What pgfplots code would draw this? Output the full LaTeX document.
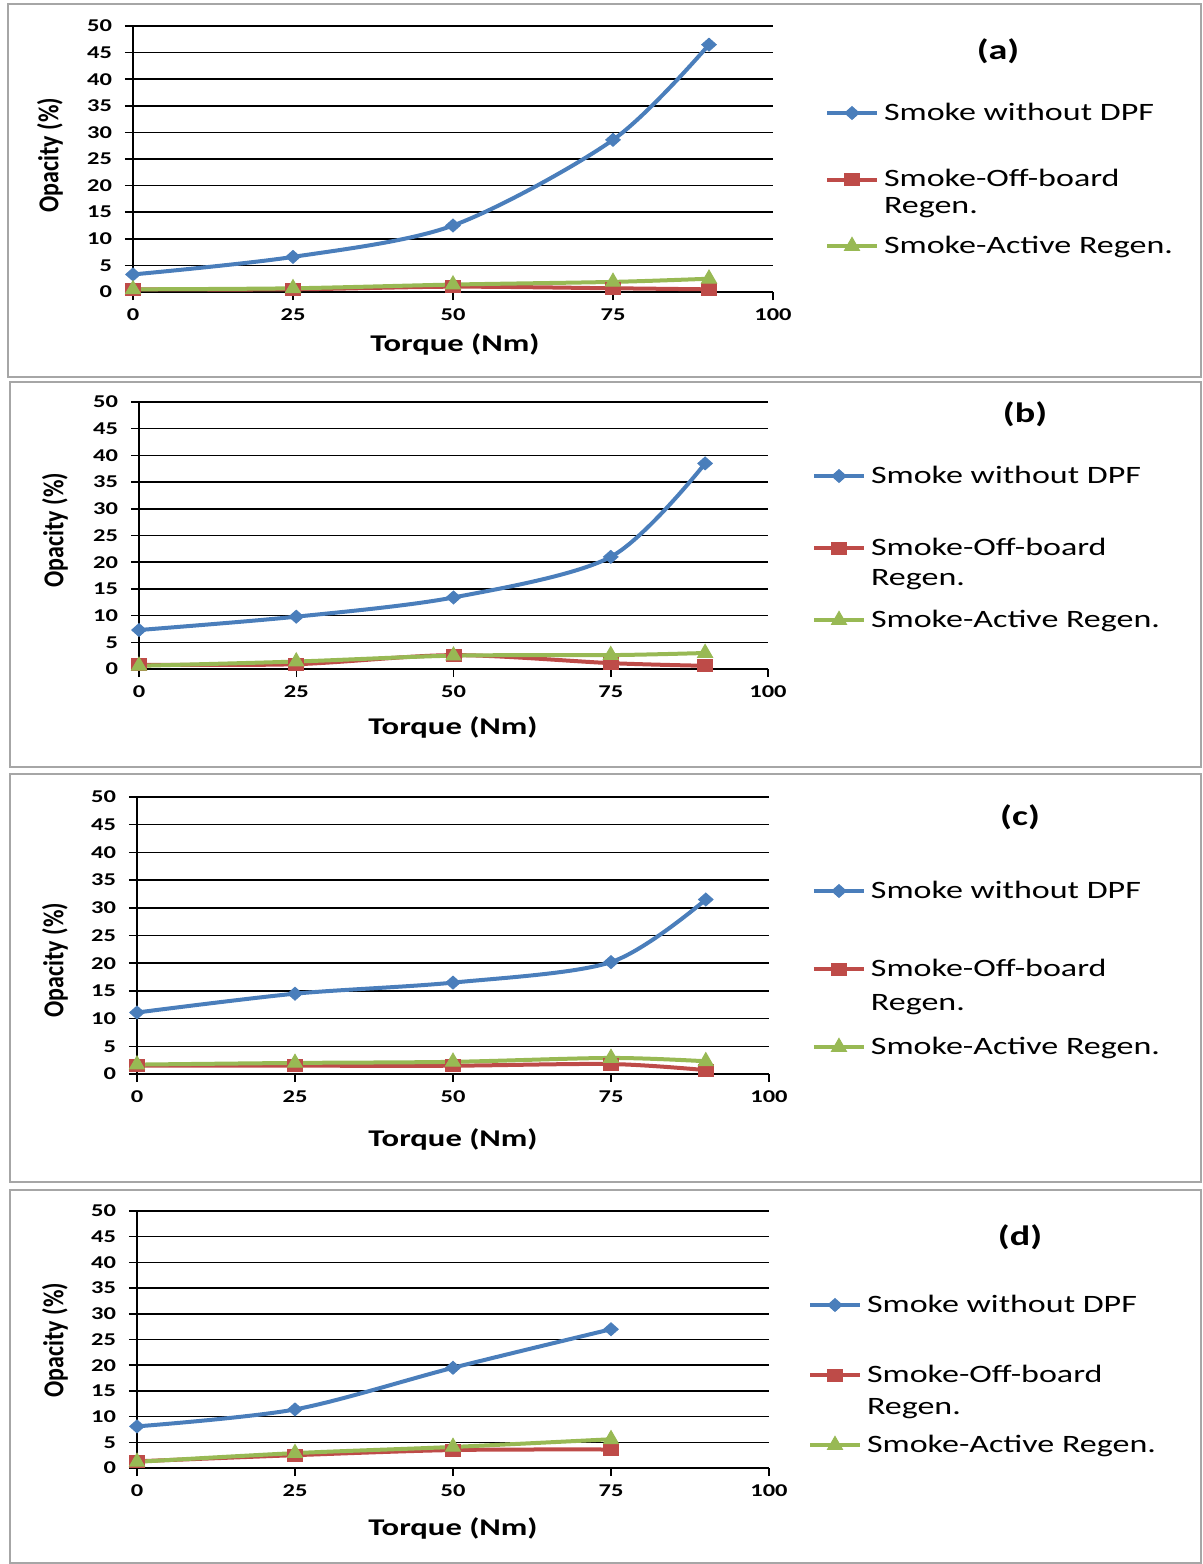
\documentclass[border=0pt]{standalone}
\usepackage{graphicx}
\usepackage{pgfplots}
\pgfplotsset{compat=1.18}
\usepackage{fontspec}
\setmainfont{Carlito}[FakeStretch=1.36]
\newfontfamily\plainfont{Carlito}
\definecolor{sblue}{HTML}{4A7EBB}
\definecolor{sred}{HTML}{BE4B48}
\definecolor{sgreen}{HTML}{98B954}
\definecolor{frame}{HTML}{A6A6A6}
\newcommand\under[2]{\rlap{\raisebox{-#1}[0pt][0pt]{#2}}}
\pgfplotsset{
  panel/.style={
    scale only axis, anchor=south west,
    xmin=0, xmax=100, ymin=0, ymax=50,
    xtick={0,25,50,75,100}, ytick={0,5,...,50},
    axis x line*=bottom, axis y line*=left,
    axis line style={black, line width=1pt},
    ymajorgrids, major grid style={black, line width=0.75pt},
    tick align=outside, major tick length=4pt,
    tick style={black, line width=0.75pt},
    tick label style={font=\bfseries\fontsize{9}{10}\selectfont},
    yticklabel style={xshift=-3pt},
    xticklabel style={yshift=-1pt},
    /pgf/number format/assume math mode=true,
    clip=false,
    xlabel={Torque (Nm)},
    xlabel style={font=\bfseries\fontsize{12}{14}\selectfont, anchor=center},
    ylabel={\scalebox{1}[1.2]{\plainfont\bfseries Opacity (\%)}},
    ylabel style={font=\fontsize{12}{14}\selectfont, anchor=center},
    title style={font=\bfseries\fontsize{14}{16}\selectfont, anchor=center},
    legend style={draw=none, fill=none, inner sep=0pt, outer sep=0pt,
      anchor=north west, font=\fontsize{12.5}{15}\selectfont,
      cells={anchor=base west},
      nodes={inner sep=0pt, outer sep=0pt, anchor=base west,
             text height=10pt, text depth=2pt},
      column sep=2.5pt},
    legend image code/.code={\draw[mark repeat=2,mark phase=2,##1] plot coordinates {(0pt,3.5pt) (12.5pt,3.5pt) (25pt,3.5pt)};},
  },
  sb/.style={color=sblue, line width=2pt, smooth, mark=diamond*, mark size=3.2pt, mark options={fill=sblue, xscale=1.5, solid, line width=0.5pt}},
  sr/.style={color=sred, line width=2pt, smooth, mark=square*, mark size=3pt, mark options={fill=sred, xscale=1.25, solid, line width=0.5pt}},
  sg/.style={color=sgreen, line width=2pt, smooth, mark=triangle*, mark size=4.3pt, mark options={fill=sgreen, solid, line width=0.5pt}},
}
\begin{document}
\begin{tikzpicture}
\path[use as bounding box] (0pt,0pt) rectangle (601.5pt,-782pt);
\draw[frame, line width=1pt] (4pt,-2pt) rectangle (600.5pt,-188.5pt);
\draw[frame, line width=1pt] (5pt,-191pt) rectangle (600.5pt,-383.5pt);
\draw[frame, line width=1pt] (5pt,-387pt) rectangle (600.5pt,-591pt);
\draw[frame, line width=1pt] (5pt,-595pt) rectangle (600.5pt,-781.5pt);

% (a)
\begin{axis}[panel, at={(66.5pt,-146pt)}, width=320pt, height=133pt,
  title={(a)}, title style={at={(axis description cs:1.3516,0.861)}},
  xlabel style={at={(axis description cs:0.503,-0.1955)}},
  ylabel style={at={(axis description cs:-0.1297,0.515)}},
  legend style={at={(axis description cs:1.08125,0.7218)}, row sep=21.25pt}]
\addplot[sb] coordinates {(0,3.3) (25,6.6) (50,12.5) (75,28.6) (90,46.5)};
\addlegendentry{Smoke without DPF}
\addplot[sr] coordinates {(0,0.5) (25,0.5) (50,1.0) (75,0.7) (90,0.5)};
\addlegendentry{\under{13.5pt}{Regen.}Smoke-Off-board}
\addplot[sg] coordinates {(0,0.5) (25,0.7) (50,1.4) (75,1.9) (90,2.5)};
\addlegendentry{Smoke-Active Regen.}
\end{axis}

% (b)
\begin{axis}[panel, at={(69.5pt,-334.5pt)}, width=314.5pt, height=133.5pt,
  title={(b)}, title style={at={(axis description cs:1.4086,0.910)}},
  xlabel style={at={(axis description cs:0.4992,-0.2172)}},
  ylabel style={at={(axis description cs:-0.1335,0.5206)}},
  legend style={at={(axis description cs:1.0700,0.7715)}, row sep=24pt}]
\addplot[sb] coordinates {(0,7.3) (25,9.8) (50,13.4) (75,21.0) (90,38.5)};
\addlegendentry{Smoke without DPF}
\addplot[sr] coordinates {(0,0.8) (25,0.9) (50,2.6) (75,1.1) (90,0.6)};
\addlegendentry{\under{15pt}{Regen.}Smoke-Off-board}
\addplot[sg] coordinates {(0,0.6) (25,1.4) (50,2.5) (75,2.6) (90,3.0)};
\addlegendentry{Smoke-Active Regen.}
\end{axis}

% (c)
\begin{axis}[panel, at={(68.5pt,-537pt)}, width=316pt, height=138.5pt,
  title={(c)}, title style={at={(axis description cs:1.3972,0.8845)}},
  xlabel style={at={(axis description cs:0.5,-0.2347)}},
  ylabel style={at={(axis description cs:-0.1297,0.4116)}},
  legend style={at={(axis description cs:1.0680,0.7076)}, row sep=27pt}]
\addplot[sb] coordinates {(0,11.1) (25,14.5) (50,16.5) (75,20.2) (90,31.5)};
\addlegendentry{Smoke without DPF}
\addplot[sr] coordinates {(0,1.5) (25,1.5) (50,1.5) (75,1.8) (90,0.7)};
\addlegendentry{\under{17pt}{Regen.}Smoke-Off-board}
\addplot[sg] coordinates {(0,1.7) (25,2.0) (50,2.2) (75,2.9) (90,2.3)};
\addlegendentry{Smoke-Active Regen.}
\end{axis}

% (d)
\begin{axis}[panel, at={(68.5pt,-734pt)}, width=316pt, height=128.5pt,
  title={(d)}, title style={at={(axis description cs:1.3972,0.852)}},
  xlabel style={at={(axis description cs:0.5,-0.2335)}},
  ylabel style={at={(axis description cs:-0.1297,0.498)}},
  legend style={at={(axis description cs:1.0617,0.6848)}, row sep=23pt}]
\addplot[sb] coordinates {(0,8.1) (25,11.4) (50,19.5) (75,27.0)};
\addlegendentry{Smoke without DPF}
\addplot[sr] coordinates {(0,1.3) (25,2.5) (50,3.5) (75,3.6)};
\addlegendentry{\under{16pt}{Regen.}Smoke-Off-board}
\addplot[sg] coordinates {(0,1.2) (25,2.9) (50,4.1) (75,5.6)};
\addlegendentry{Smoke-Active Regen.}
\end{axis}
\end{tikzpicture}
\end{document}
